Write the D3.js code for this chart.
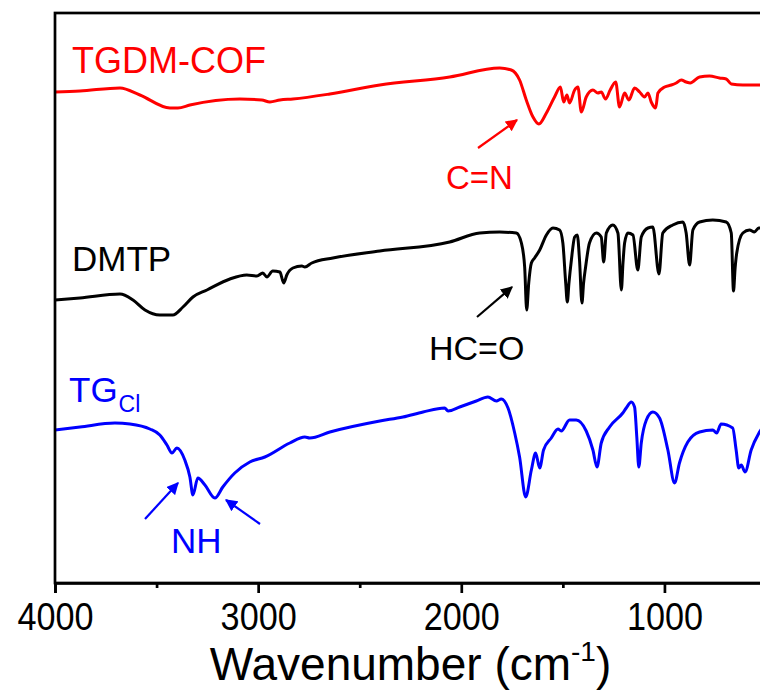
<!DOCTYPE html>
<html>
<head>
<meta charset="utf-8">
<script src="https://cdn.jsdelivr.net/npm/d3@7"></script>
<style>
  html, body { margin: 0; padding: 0; background: #fff; }
  svg text { font-family: "Liberation Sans", Arial, Helvetica, sans-serif; }
</style>
</head>
<body>
<svg id="chart" width="760" height="693"></svg>
<script>
// FTIR spectra, offset vertically (transmittance, arbitrary units)
const tgdmWavenumber = [4000,3877,3680,3582,3434,3395,3336,3090,2982,2942,2893,2829,2647,2401,2057,1811,1754,1713,1680,1647,1618,1581,1541,1512,1496,1480,1467,1442,1426,1409,1385,1352,1328,1311,1290,1267,1240,1221,1196,1175,1147,1122,1098,1081,1065,1043,1032,999,966,942,917,893,873,827,778,729,696,671,614,537,500];
const tgdmSignal     = [491,492,495,488,475,475,478,484,483,481,483,484,489,498,506,515,513,503,483,466,459,470,486,496,481,488,480,493,496,471,486,493,490,491,484,493,501,476,490,483,495,491,486,490,481,475,490,496,498,500,503,501,500,506,507,505,504,499,498,498,498];

const dmtpWavenumber = [4000,3877,3680,3616,3557,3484,3420,3370,3321,3252,3139,3056,3006,2977,2957,2928,2893,2874,2859,2829,2785,2770,2736,2632,2401,2057,1909,1811,1729,1704,1688,1678,1668,1655,1639,1614,1581,1549,1516,1500,1486,1478,1470,1458,1442,1429,1418,1406,1398,1388,1369,1335,1311,1299,1286,1254,1229,1212,1204,1196,1180,1155,1131,1114,1081,1057,1027,1008,959,909,893,876,860,827,762,696,671,660,652,644,614,581,557,536,500];
const dmtpSignal     = [283,285,289,283,273,268,268,276,286,293,304,308,307,310,306,312,311,300,308,315,317,316,320,325,332,341,350,351,350,340,316,273,300,320,325,333,348,355,353,340,300,281,300,323,346,348,323,280,300,316,340,350,346,321,350,358,350,293,320,340,350,348,313,346,355,356,309,350,358,361,350,318,353,361,363,361,350,292,315,330,350,353,351,355,355];

const tgWavenumber = [4000,3877,3705,3631,3533,3484,3449,3424,3400,3361,3336,3321,3297,3262,3213,3174,3115,3041,2967,2844,2770,2746,2647,2401,2287,2188,2082,2065,2008,1926,1869,1827,1803,1770,1737,1713,1683,1655,1634,1614,1595,1557,1524,1508,1467,1434,1385,1352,1332,1311,1270,1205,1188,1163,1147,1136,1126,1114,1089,1057,1024,983,950,926,885,827,762,743,721,664,647,634,622,603,573,532,500];
const tgSignal     = [153,156,160,159,154,148,138,130,135,123,106,88,105,98,85,96,110,121,126,140,146,145,151,162,166,171,175,172,176,182,186,182,184,175,150,126,86,113,130,115,133,145,154,152,163,163,152,133,116,140,156,170,175,181,176,146,116,140,163,171,165,133,100,120,141,151,153,150,159,155,133,115,118,111,133,151,160];

const majorTicks = [4000, 3000, 2000, 1000];
const minorTicks = [3500, 2500, 1500];

const seriesNames  = ["TGDM-COF", "DMTP", "TGCl"];
const seriesColors = ["#ff0000", "#000000", "#0000ff"];

const svg = d3.select("#chart");
const plotLeft = 55, plotTop = 13, plotBottom = 583, plotRight = 766;

const x = d3.scaleLinear().domain([4000, 500]).range([plotLeft, plotRight]);
const y = d3.scaleLinear().domain([0, 570]).range([plotBottom, plotTop]);

const defs = svg.append("defs");
defs.append("clipPath").attr("id", "plotClip")
  .append("rect").attr("x", plotLeft).attr("y", plotTop)
  .attr("width", plotRight - plotLeft).attr("height", plotBottom - plotTop);

const line = d3.line()
  .x(d => x(d[0]))
  .y(d => y(d[1]))
  .curve(d3.curveMonotoneX);

const spectra = [
  d3.zip(tgdmWavenumber, tgdmSignal),
  d3.zip(dmtpWavenumber, dmtpSignal),
  d3.zip(tgWavenumber, tgSignal)
];

const plot = svg.append("g").attr("clip-path", "url(#plotClip)");
spectra.forEach((pts, i) => {
  plot.append("path")
    .datum(pts)
    .attr("fill", "none")
    .attr("stroke", seriesColors[i])
    .attr("stroke-width", 3)
    .attr("stroke-linejoin", "round")
    .attr("d", line);
});

// frame
svg.append("rect")
  .attr("x", plotLeft).attr("y", plotTop)
  .attr("width", plotRight - plotLeft).attr("height", plotBottom - plotTop)
  .attr("fill", "none").attr("stroke", "#000").attr("stroke-width", 2.7);

// x axis: major ticks with labels, minor ticks without
const xAxis = svg.append("g").attr("transform", `translate(0,${plotBottom})`)
  .call(d3.axisBottom(x).tickValues(majorTicks).tickSize(10).tickPadding(10).tickFormat(d3.format("d")));
xAxis.select(".domain").attr("stroke-width", 2.7);
xAxis.selectAll(".tick line").attr("stroke-width", 2.7);
xAxis.selectAll(".tick text").attr("font-size", 38).attr("fill", "#000")
  .attr("transform", "scale(0.9,1)")
  .attr("font-family", "'Liberation Sans', Arial, sans-serif");

const xMinor = svg.append("g").attr("transform", `translate(0,${plotBottom})`)
  .call(d3.axisBottom(x).tickValues(minorTicks).tickSize(5).tickFormat(""));
xMinor.select(".domain").remove();
xMinor.selectAll(".tick line").attr("stroke-width", 2.7);

// axis title
const title = svg.append("text")
  .attr("x", (plotLeft + plotRight) / 2).attr("y", 680)
  .attr("text-anchor", "middle").attr("font-size", 46).attr("fill", "#000");
title.append("tspan").text("Wavenumber (cm");
title.append("tspan").attr("font-size", 28).attr("dy", -19).text("-1");
title.append("tspan").attr("dy", 19).text(")");

// series labels
svg.append("text").attr("x", 72).attr("y", 73).attr("font-size", 36)
  .attr("fill", seriesColors[0]).text(seriesNames[0]);
svg.append("text").attr("x", 72).attr("y", 271).attr("font-size", 35)
  .attr("fill", seriesColors[1]).text(seriesNames[1]);
const tgLabel = svg.append("text").attr("x", 69).attr("y", 402).attr("font-size", 35)
  .attr("fill", seriesColors[2]);
tgLabel.append("tspan").text("TG");
tgLabel.append("tspan").attr("font-size", 23).attr("dy", 10).attr("dx", 1).text("Cl");

// band assignments with arrows
seriesColors.forEach((c, i) => {
  defs.append("marker")
    .attr("id", "arrow" + i)
    .attr("viewBox", "0 0 10 10")
    .attr("refX", 9).attr("refY", 5)
    .attr("markerWidth", 5.5).attr("markerHeight", 5.5)
    .attr("markerUnits", "strokeWidth")
    .attr("orient", "auto")
    .append("path").attr("d", "M0,0 L10,5 L0,10 Z").attr("fill", c);
});

const arrows = [
  { x1: 478, y1: 148, x2: 517, y2: 120, c: 0 },
  { x1: 477, y1: 317, x2: 512, y2: 287, c: 1 },
  { x1: 145, y1: 519, x2: 178, y2: 483, c: 2 },
  { x1: 260, y1: 524, x2: 226, y2: 500, c: 2 }
];
arrows.forEach(a => {
  svg.append("line")
    .attr("x1", a.x1).attr("y1", a.y1).attr("x2", a.x2).attr("y2", a.y2)
    .attr("stroke", seriesColors[a.c]).attr("stroke-width", 2.2)
    .attr("marker-end", `url(#arrow${a.c})`);
});

svg.append("text").attr("x", 446).attr("y", 189).attr("font-size", 33)
  .attr("fill", seriesColors[0]).text("C=N");
svg.append("text").attr("x", 429).attr("y", 360).attr("font-size", 34)
  .attr("fill", seriesColors[1]).text("HC=O");
svg.append("text").attr("x", 171).attr("y", 553).attr("font-size", 35)
  .attr("fill", seriesColors[2]).text("NH");
</script>
</body>
</html>
